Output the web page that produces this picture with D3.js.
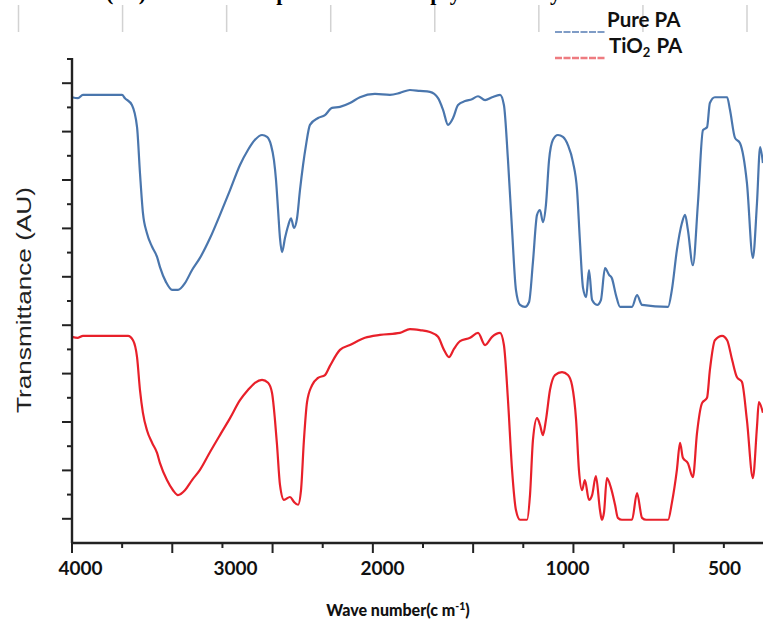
<!DOCTYPE html>
<html><head><meta charset="utf-8">
<script src="https://cdn.jsdelivr.net/npm/d3@7"></script>
<style>body{margin:0;background:#fff}svg{display:block}</style>
</head><body>
<svg id="chart" width="763" height="628"></svg>
<script>
// ---- data ----
const waveTickLabels = [4000, 3000, 2000, 1000, 500];
const seriesNames = ["Pure PA", "TiO2 PA"];
const pureWave = [4052,4013,3981,3871,3729,3710,3665,3632,3613,3594,3568,3535,3503,3484,3445,3406,3368,3323,3277,3226,3161,3097,3032,2966,2912,2864,2816,2782,2755,2735,2721,2707,2694,2680,2660,2639,2619,2599,2578,2558,2537,2517,2490,2435,2388,2340,2286,2218,2150,2048,1957,1903,1849,1795,1741,1697,1670,1643,1616,1589,1551,1514,1481,1443,1405,1362,1341,1319,1297,1276,1254,1227,1205,1184,1162,1146,1130,1114,1097,1076,1049,1022,997,981,968,959,949,939,930,920,904,892,879,866,857,844,831,793,777,761,678,666,650,634,624,615,599,583,567,554,545,529,490,481,465,449,427,408,395,385,376];
const pureT = [92.1,91.9,92.6,92.6,92.6,91.9,90.5,85.9,76.4,68.2,64.0,61.2,59.1,57.0,53.9,52.3,52.3,53.7,56.4,58.9,63.0,67.8,72.9,78.1,81.2,83.3,84.3,83.9,82.2,79.1,75.0,68.8,63.0,60.1,63.0,65.5,67.1,65.1,67.1,72.9,78.1,82.2,86.4,87.8,88.4,89.9,90.1,90.9,92.1,92.8,92.6,93.0,93.6,93.4,93.2,91.9,89.5,86.4,87.8,90.5,91.3,91.7,92.3,91.5,92.1,92.6,90.5,79.1,64.7,52.3,49.2,48.8,49.8,58.1,67.8,68.8,66.3,69.8,79.1,83.3,84.3,83.9,82.2,78.7,72.9,62.6,52.7,50.8,56.4,50.2,49.2,50.2,56.8,55.4,54.7,51.2,48.8,48.8,51.2,49.2,48.8,52.3,60.5,66.1,67.8,64.7,57.4,70.2,85.3,85.9,90.9,92.1,92.1,89.5,83.7,82.6,74.4,58.9,70.2,81.8,78.5];
const tioWave = [4052,4013,3981,3690,3658,3632,3613,3594,3568,3535,3503,3484,3439,3400,3368,3323,3277,3226,3161,3097,3032,2966,2912,2864,2816,2775,2748,2728,2714,2694,2667,2626,2599,2571,2551,2531,2510,2476,2435,2388,2354,2286,2218,2116,2014,1903,1849,1795,1741,1697,1665,1638,1611,1578,1524,1481,1443,1405,1362,1341,1319,1297,1276,1254,1216,1200,1184,1162,1146,1130,1114,1092,1065,1027,997,984,971,962,952,943,930,920,908,895,889,882,873,860,847,838,825,793,777,761,748,678,666,650,640,631,615,599,586,570,554,545,529,506,490,474,459,443,427,408,395,389,376];
const tioT = [42.6,42.4,42.8,42.8,41.9,38.4,31.6,26.9,23.3,20.7,18.6,16.5,13.0,10.9,9.9,10.9,13.0,15.1,18.8,22.3,25.8,29.5,31.6,33.1,33.7,33.1,31.0,25.4,20.2,12.0,8.9,9.5,8.5,7.9,10.9,21.3,29.1,32.6,34.1,34.7,36.6,39.9,40.9,42.4,43.0,43.4,44.2,44.0,43.6,42.6,39.9,38.4,40.1,41.7,42.4,43.4,40.9,42.6,43.4,40.9,29.5,15.1,6.8,4.8,4.8,9.9,21.3,25.8,24.4,22.3,25.4,31.6,34.7,35.3,34.7,32.6,25.4,15.1,10.9,13.0,8.9,9.9,13.8,6.8,4.8,6.4,13.4,11.4,7.9,5.2,4.8,4.8,10.3,5.2,4.8,4.8,8.3,15.1,20.7,17.6,16.5,13.6,22.7,28.9,30.0,35.7,41.9,42.8,41.9,37.8,34.3,33.3,25.4,13.4,24.0,29.1,26.9];

// ---- layout ----
const svg = d3.select("#chart");
const axisX0 = 72, axisY0 = 543, axisTop = 58;

const x = d3.scaleLinear().domain(waveTickLabels).range([80, 235, 382, 567, 724]);
const y = d3.scaleLinear().domain([0, 100]).range([axisY0, 59]);

// faint table rules at top
const ruleScale = d3.scaleLinear().domain([0, 7]).range([18.5, 747]);
svg.append("g").selectAll("line").data(d3.range(8)).join("line")
  .attr("x1", d => ruleScale(d)).attr("x2", d => ruleScale(d))
  .attr("y1", 5).attr("y2", 32)
  .attr("stroke", "#d2d2d2").attr("stroke-width", 1.5);

// cut-off caption at very top (only its lower edge is visible in the reference)
svg.append("text").attr("x", 106).attr("y", 0)
  .attr("font-family", "Liberation Serif").attr("font-weight", "bold").attr("font-size", 22)
  .attr("fill", "#000").attr("textLength", 500).attr("lengthAdjust", "spacing")
  .text("(a)      FTIR spectroscopy analysis");

// lines
const line = d3.line().x(d => x(d[0])).y(d => y(d[1])).curve(d3.curveMonotoneX);
svg.append("path").datum(d3.zip(pureWave, pureT))
  .attr("d", line).attr("fill", "none").attr("stroke", "#4a76ad").attr("stroke-width", 2.2)
  .attr("stroke-linejoin", "round");
svg.append("path").datum(d3.zip(tioWave, tioT))
  .attr("d", line).attr("fill", "none").attr("stroke", "#e8202a").attr("stroke-width", 2.2)
  .attr("stroke-linejoin", "round");

// y axis with unlabeled ticks
const yAxisG = svg.append("g").attr("transform", `translate(${axisX0},0)`);
yAxisG.append("line").attr("x1", 0).attr("x2", 0).attr("y1", axisTop).attr("y2", axisY0)
  .attr("stroke", "#222").attr("stroke-width", 2.4);
const yTickVals = d3.range(5, 101, 5);
yAxisG.selectAll("line.t").data(yTickVals).join("line").attr("class", "t")
  .attr("x1", d => (d % 10 === 5) ? -10 : -5).attr("x2", 0)
  .attr("y1", d => y(d)).attr("y2", d => y(d))
  .attr("stroke", "#222").attr("stroke-width", 2);

// x axis frame ticks
const tickIdx = d3.scaleLinear().domain([0, 14]).range([axisX0, 774]);
const xAxisG = svg.append("g").attr("transform", `translate(0,${axisY0})`);
xAxisG.append("line").attr("x1", axisX0 - 1).attr("x2", 763).attr("y1", 0).attr("y2", 0)
  .attr("stroke", "#222").attr("stroke-width", 2.4);
xAxisG.selectAll("line.t").data(d3.range(0, 14)).join("line").attr("class", "t")
  .attr("x1", d => tickIdx(d)).attr("x2", d => tickIdx(d))
  .attr("y1", 0).attr("y2", d => d % 2 === 0 ? 10 : 5)
  .attr("stroke", "#222").attr("stroke-width", 2);

// x tick labels
const xLab = d3.axisBottom(x).tickValues(waveTickLabels).tickSize(0).tickPadding(19).tickFormat(d3.format("d"));
const labG = svg.append("g").attr("transform", `translate(0,${axisY0})`).call(xLab);
labG.select(".domain").remove();
labG.selectAll("text").attr("font-family", "Lato").attr("font-weight", "bold")
  .attr("font-size", 19).attr("fill", "#111");

// axis titles
const xt = svg.append("text").attr("x", 398).attr("y", 616).attr("text-anchor", "middle")
  .attr("font-family", "Lato").attr("font-weight", "900").attr("font-size", 16).attr("fill", "#111");
xt.append("tspan").text("Wave number(c m");
xt.append("tspan").attr("dy", -6).attr("font-size", 10.5).text("-1");
xt.append("tspan").attr("dy", 6).text(")");

svg.append("text").attr("transform", "translate(31,300) rotate(-90)").attr("text-anchor", "middle")
  .attr("font-family", "Liberation Sans").attr("font-size", 21).attr("fill", "#222")
  .attr("textLength", 226).attr("lengthAdjust", "spacingAndGlyphs")
  .text("Transmittance (AU)");

// legend
const legend = svg.append("g");
legend.append("line").attr("x1", 555).attr("x2", 605).attr("y1", 32).attr("y2", 32)
  .attr("stroke", "#7f9cc6").attr("stroke-width", 2).attr("stroke-dasharray", "7,1.5");
legend.append("line").attr("x1", 555).attr("x2", 605).attr("y1", 58).attr("y2", 58)
  .attr("stroke", "#ee7b80").attr("stroke-width", 2.5).attr("stroke-dasharray", "7,1.5");
legend.append("text").attr("x", 607).attr("y", 27)
  .attr("font-family", "Lato").attr("font-weight", "bold").attr("font-size", 20.5).attr("fill", "#111")
  .text(seriesNames[0]);
const t2 = legend.append("text").attr("x", 609).attr("y", 53)
  .attr("font-family", "Lato").attr("font-weight", "bold").attr("font-size", 20.5).attr("fill", "#111");
t2.append("tspan").text("TiO");
t2.append("tspan").attr("dy", 4).attr("font-size", 13).text("2");
t2.append("tspan").attr("dy", -4).attr("dx", 6).text("PA");
</script>
</body></html>
